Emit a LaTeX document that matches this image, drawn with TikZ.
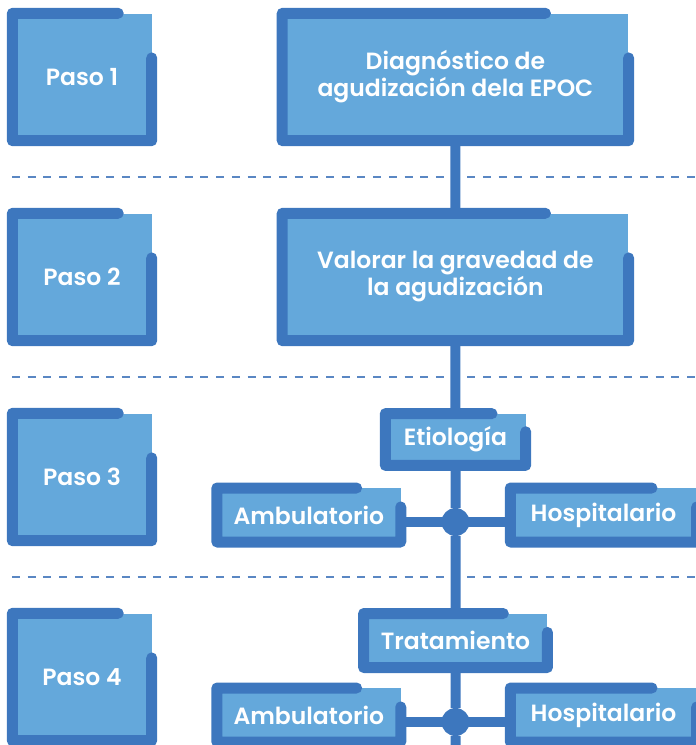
\documentclass[tikz,border=0pt]{standalone}
\usepackage{fontspec}
\setmainfont{Poppins}[BoldFont={Poppins SemiBold}]
\usetikzlibrary{calc}
\pgfdeclarelayer{background}
\pgfsetlayers{background,main}
\definecolor{oscuro}{RGB}{61,119,190}
\definecolor{claro}{RGB}{100,168,219}
\definecolor{guion}{RGB}{90,135,195}

\begin{document}
\begin{tikzpicture}[x=1pt, y=-1pt]
      \tikzstyle{paso} = [
        rectangle,
        fill=claro,
        text=white,
        font=\bfseries\fontsize{23.5}{27}\selectfont,
        align=center,
        inner sep=0pt,
        minimum width=139pt,
        minimum height=127pt
      ]

      \tikzstyle{etapa} = [
        paso,
        minimum width=346pt
      ]

      \tikzstyle{rama} = [
        paso,
        minimum width=183.5pt,
        minimum height=53.6pt
      ]

      \tikzstyle{marco} = [
        draw=oscuro,
        line width=11pt,
        line cap=round,
        line join=round
      ]

      \tikzstyle{enlace} = [draw=oscuro, line width=10pt]
      \tikzstyle{nudo} = [circle, fill=oscuro, minimum size=28pt, inner sep=0pt]
      \tikzstyle{separador} = [draw=guion, line width=1.3pt, dash pattern=on 8pt off 7.7pt]

      \useasboundingbox (0,0) rectangle (696,745);

      \node[paso] (paso1) at (82,77) {Paso 1};
      \node[paso] (paso2) at (82,277) {Paso 2};
      \node[paso] (paso3) at (82,477) {Paso 3};
      \node[paso] (paso4) at (82,677) {Paso 4};

      \node[etapa] (diagnostico) at (455.4,77) {Diagnóstico de\\agudización dela EPOC};
      \node[etapa] (valorar) at (455.4,277) {Valorar la gravedad de\\la agudización};
      \node[rama, minimum width=140pt, minimum height=51.4pt] (etiologia) at (455.5,439.5) {Etiología};
      \node[rama] (amb3) at (308.8,515) {Ambulatorio};
      \node[rama, minimum width=186pt] (hosp3) at (603.5,515) {Hospitalario};
      \node[rama] (tratamiento) at (455.5,640.5) {Tratamiento};
      \node[rama] (amb4) at (308.8,715) {Ambulatorio};
      \node[rama, minimum width=186pt] (hosp4) at (603.5,715) {Hospitalario};

      \node[nudo] (nudo3) at (455.5,522) {};
      \node[nudo] (nudo4) at (455.5,722) {};
      \coordinate (fin) at (455.5,746);

      % broken frame round each box
      \foreach \n in {paso1,paso2,paso3,paso4,diagnostico,valorar,etiologia,amb3,hosp3,tratamiento,amb4,hosp4}
        \draw[marco] ($(\n.north west)!0.76!(\n.north east)$) -- (\n.north west)
          -- (\n.south west) -- (\n.south east) -- ($(\n.north east)!0.35!(\n.south east)$);

      \begin{pgfonlayer}{background}
        \foreach \y in {177,377,577}
          \draw[separador] (12,\y) -- (696,\y);
        \draw[enlace] (diagnostico) -- (valorar) -- (etiologia) -- (nudo3)
          -- (tratamiento) -- (nudo4) -- (fin);
        \draw[enlace] (amb3.east |- nudo3) -- (hosp3.west |- nudo3);
        \draw[enlace] (amb4.east |- nudo4) -- (hosp4.west |- nudo4);
      \end{pgfonlayer}
\end{tikzpicture}
\end{document}
